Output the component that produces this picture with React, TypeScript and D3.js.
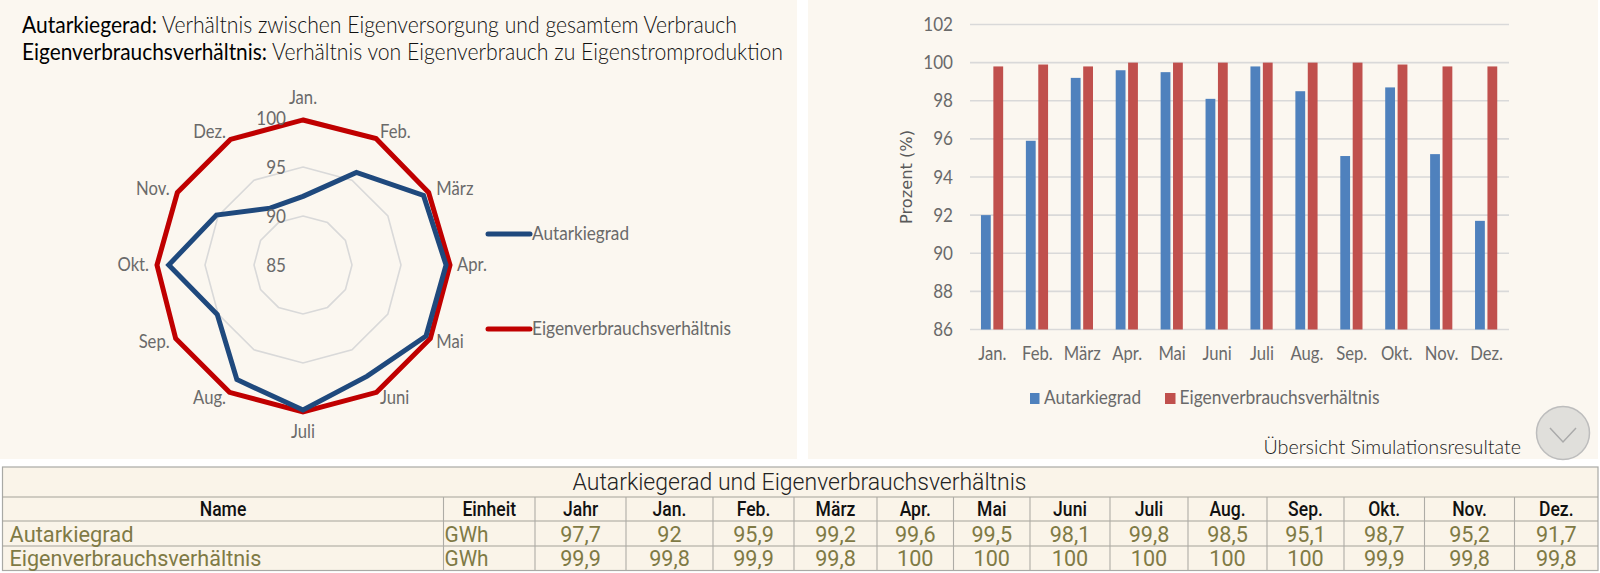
import React from "react";
import * as d3 from "d3";

const months = ["Jan.", "Feb.", "März", "Apr.", "Mai", "Juni", "Juli", "Aug.", "Sep.", "Okt.", "Nov.", "Dez."];
const autarkiegrad = [92, 95.9, 99.2, 99.6, 99.5, 98.1, 99.8, 98.5, 95.1, 98.7, 95.2, 91.7];
const eigenverbrauch = [99.8, 99.9, 99.8, 100, 100, 100, 100, 100, 100, 99.9, 99.8, 99.8];
const jahr = [97.7, 99.9];
const seriesNames = ["Autarkiegrad", "Eigenverbrauchsverhältnis"];
const radarTicks = [85, 90, 95, 100];
const barTicks = [86, 88, 90, 92, 94, 96, 98, 100, 102];
const tableHeader = ["Name", "Einheit", "Jahr", ...months];
const unit = "GWh";

const BLUE_LINE = "#1f497d";
const RED_LINE = "#c00000";
const BLUE_BAR = "#4f81bd";
const RED_BAR = "#c0504d";
const PANEL = "#fbf7f0";
const GRID = "#d9d9d9";
const LABEL = "#6a6a6a";
const LATO = "Lato, sans-serif";
const ROBOTO = "Roboto, sans-serif";

const fmt = (v: number) => String(v).replace(".", ",");

function Label({ x, y, len, children, anchor = "start", size = 18.5, weight = 400, fill = LABEL, family = LATO, rotate, sx = 0.9 }: any) {
  return (
    <text
      textAnchor={anchor}
      fontSize={size}
      fontWeight={weight}
      fill={fill}
      fontFamily={family}
      textLength={len ? len / sx : undefined}
      lengthAdjust={len ? "spacingAndGlyphs" : undefined}
      transform={`translate(${x},${y})${rotate ? ` rotate(${rotate})` : ""} scale(${sx},1)`}
    >
      {children}
    </text>
  );
}

function Radar() {
  const cx = 303;
  const cy = 265;
  const r = d3.scaleLinear().domain([85, 100]).range([0, 147]);
  const angle = d3.scalePoint<string>().domain(months).range([0, (Math.PI * 2 * 11) / 12]);
  const path = (vals: number[]) =>
    d3
      .lineRadial<number>()
      .angle((_, i) => angle(months[i]) as number)
      .radius((d) => r(d))
      .curve(d3.curveLinearClosed)(vals) as string;
  return (
    <g>
      <g transform={`translate(${cx},${cy})`}>
        {radarTicks.slice(1).map((t) => (
          <path key={t} d={path(months.map(() => t))} fill="none" stroke={GRID} strokeWidth={1.6} />
        ))}
        <path d={path(eigenverbrauch)} fill="none" stroke={RED_LINE} strokeWidth={5} />
        <path d={path(autarkiegrad)} fill="none" stroke={BLUE_LINE} strokeWidth={5} />
      </g>
      {radarTicks.map((t) => (
        <Label key={t} x={286} y={cy - r(t) + 7} anchor="end" size={19}>
          {t}
        </Label>
      ))}
      {months.map((m) => {
        const a = angle(m) as number;
        const s = Math.sin(a);
        const c = Math.cos(a);
        const vertical = Math.abs(s) < 0.01;
        const x = cx + 154 * s;
        const y = cy - (vertical ? 167 : 153) * c + 6;
        return (
          <Label key={m} x={x} y={y} anchor={vertical ? "middle" : s > 0 ? "start" : "end"}>
            {m}
          </Label>
        );
      })}
      {seriesNames.map((name, i) => {
        const y = i ? 329 : 234;
        return (
          <g key={name}>
            <line x1={488} x2={530} y1={y} y2={y} stroke={i ? RED_LINE : BLUE_LINE} strokeWidth={5} strokeLinecap="round" />
            <Label x={532} y={y + 6} len={i ? 199 : 97}>
              {name}
            </Label>
          </g>
        );
      })}
    </g>
  );
}

function Bars() {
  const x = d3.scaleBand<string>().domain(months).range([970, 1509]);
  const y = d3.scaleLinear().domain([86, 102]).range([329.5, 24.5]);
  const barW = 9.8;
  const gap = 2.6;
  return (
    <g>
      {barTicks.map((t) => (
        <g key={t}>
          <line x1={970} x2={1509} y1={y(t)} y2={y(t)} stroke={GRID} strokeWidth={1.6} />
          <Label x={953} y={y(t) + 6.5} anchor="end" size={19}>
            {t}
          </Label>
        </g>
      ))}
      {months.map((m, i) => {
        const mid = (x(m) as number) + x.bandwidth() / 2;
        return (
          <g key={m}>
            <rect x={mid - gap / 2 - barW - 0.4} y={y(autarkiegrad[i])} width={barW} height={y(86) - y(autarkiegrad[i])} fill={BLUE_BAR} />
            <rect x={mid + gap / 2 - 0.4} y={y(eigenverbrauch[i])} width={barW} height={y(86) - y(eigenverbrauch[i])} fill={RED_BAR} />
            <Label x={mid} y={360} anchor="middle">
              {m}
            </Label>
          </g>
        );
      })}
      <Label x={912} y={224} rotate={-90} len={94} size={16} weight={400} family="'DejaVu Sans', sans-serif" fill="#595959" sx={1}>
        Prozent (%)
      </Label>
      <rect x={1030} y={393} width={9.5} height={11} fill={BLUE_BAR} />
      <Label x={1044} y={404} len={97}>{seriesNames[0]}</Label>
      <rect x={1165} y={393} width={10.5} height={11} fill={RED_BAR} />
      <Label x={1179.5} y={404} len={200}>{seriesNames[1]}</Label>
      <Label x={1263.5} y={454} len={257.5} size={20} weight={300} fill="#222">
        Übersicht Simulationsresultate
      </Label>
      <circle cx={1563} cy={433} r={26.5} fill="#e0dfdb" stroke="#bdbdbd" strokeWidth={1.5} />
      <path d="M1550,428L1563,442L1576,428" fill="none" stroke="#aaa" strokeWidth={1.5} />
    </g>
  );
}

function Table() {
  const cols = [2.5, 443.5, 535, 626, 713, 794, 877, 953.5, 1030, 1110, 1188, 1267, 1344, 1424.5, 1514.5, 1598];
  const rows = [467, 497, 521, 546, 570.5];
  const rowsData = [
    [fmt(jahr[0]), ...autarkiegrad.map(fmt)],
    [fmt(jahr[1]), ...eigenverbrauch.map(fmt)],
  ];
  const mid = (i: number) => (cols[i] + cols[i + 1]) / 2;
  const TEXT = "#7f7a45";
  return (
    <g>
      <rect x={cols[0]} y={rows[0]} width={cols[15] - cols[0]} height={rows[4] - rows[0]} fill="#faf4e9" stroke="#a9a9a5" strokeWidth={1.2} />
      {rows.slice(1, 4).map((y) => (
        <line key={y} x1={cols[0]} x2={cols[15]} y1={y} y2={y} stroke="#a3a199" strokeWidth={1.2} />
      ))}
      {cols.slice(1, 15).map((x) => (
        <line key={x} x1={x} x2={x} y1={rows[1]} y2={rows[4]} stroke="#aeaca6" strokeWidth={1.1} />
      ))}
      <Label x={572.5} y={489.5} len={454} size={23} weight={300} family={ROBOTO} fill="#222">
        Autarkiegerad und Eigenverbrauchsverhältnis
      </Label>
      {tableHeader.map((h, i) => (
        <Label key={h} x={mid(i)} y={515.5} anchor="middle" size={19.5} weight={500} family={ROBOTO} fill="#111">
          {h}
        </Label>
      ))}
      {seriesNames.map((name, ri) => {
        const base = ri ? 566 : 541.5;
        return (
          <g key={name}>
            <Label x={9.5} y={base} len={ri ? 252 : 124} size={22} weight={400} family={ROBOTO} fill={TEXT}>
              {name}
            </Label>
            <Label x={444.5} y={base} size={22} weight={400} family={ROBOTO} fill={TEXT} len={44}>
              {unit}
            </Label>
            {rowsData[ri].map((v, ci) => (
              <Label key={ci} x={mid(ci + 2)} y={base} anchor="middle" size={22.5} weight={400} family={ROBOTO} fill={TEXT} sx={0.96}>
                {v}
              </Label>
            ))}
          </g>
        );
      })}
    </g>
  );
}

export default function App() {
  return (
    <svg width={1600} height={573} style={{ position: "absolute", left: 0, top: 0, display: "block", background: "#fff" }}>
      <rect x={0} y={0} width={797} height={459} fill={PANEL} />
      <rect x={808} y={0} width={790} height={459} fill={PANEL} />
      <g>
        <Label x={22} y={33} len={135} size={23} weight={400} fill="#000">Autarkiegerad:</Label>
        <Label x={162} y={33} len={575} size={23} weight={300} fill="#111">Verhältnis zwischen Eigenversorgung und gesamtem Verbrauch</Label>
        <Label x={22} y={60} len={245} size={23} weight={400} fill="#000">Eigenverbrauchsverhältnis:</Label>
        <Label x={272} y={60} len={511} size={23} weight={300} fill="#111">Verhältnis von Eigenverbrauch zu Eigenstromproduktion</Label>
      </g>
      <Radar />
      <Bars />
      <Table />
    </svg>
  );
}
